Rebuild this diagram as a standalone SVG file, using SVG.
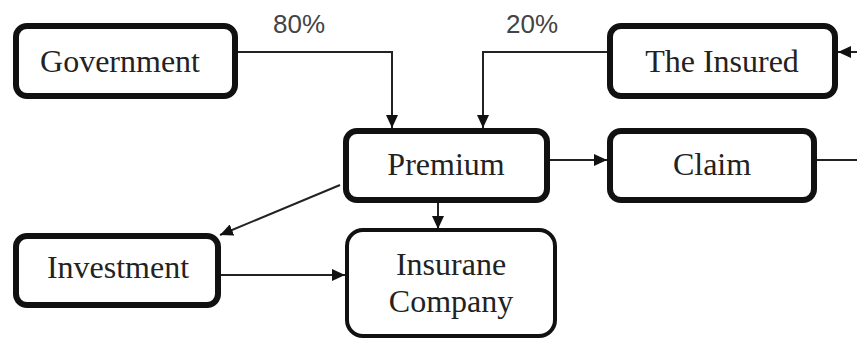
<svg xmlns="http://www.w3.org/2000/svg" width="857" height="338" viewBox="0 0 857 338">
<defs>
<style>
.box{fill:#fff;stroke:#111;stroke-width:6}
.box2{fill:#fff;stroke:#111;stroke-width:4}
.lbl{font-family:"Liberation Serif","Times New Roman",serif;font-size:32px;fill:#222;text-anchor:middle}
.pct{font-family:"Liberation Sans",Arial,sans-serif;font-size:26px;fill:#444}
.edge{fill:none;stroke:#222;stroke-width:2}
</style>
<marker id="arr" markerUnits="userSpaceOnUse" markerWidth="14" markerHeight="12" refX="13" refY="6" orient="auto">
<path d="M0,0 L13,6 L0,12 Z" fill="#111"/>
</marker>
</defs>
<rect width="857" height="338" fill="#fff"/>
<g id="connectors">
<polyline class="edge" points="220,52 392,52 392,128" marker-end="url(#arr)"/>
<polyline class="edge" points="607,52 483,52 483,128" marker-end="url(#arr)"/>
<line class="edge" x1="550" y1="160" x2="607" y2="160" marker-end="url(#arr)"/>
<line class="edge" x1="817" y1="160" x2="857" y2="160"/>
<line class="edge" x1="857" y1="52" x2="838" y2="52" marker-end="url(#arr)"/>
<line class="edge" x1="340" y1="185" x2="220" y2="235" marker-end="url(#arr)"/>
<line class="edge" x1="438" y1="203" x2="438" y2="229" marker-end="url(#arr)"/>
<line class="edge" x1="221" y1="275" x2="345" y2="275" marker-end="url(#arr)"/>
<text class="pct" x="273" y="33">80%</text>
<text class="pct" x="506" y="33">20%</text>
</g>
<g id="government">
<rect class="box" x="16" y="26" width="219" height="70" rx="11"/>
<text class="lbl" x="120" y="72">Government</text>
</g>
<g id="insured">
<rect class="box" x="610" y="26" width="225" height="70" rx="11"/>
<text class="lbl" x="722" y="72">The Insured</text>
</g>
<g id="premium">
<rect class="box" x="346" y="131" width="201" height="69" rx="11"/>
<text class="lbl" x="446" y="175">Premium</text>
</g>
<g id="claim">
<rect class="box" x="610" y="131" width="204" height="69" rx="11"/>
<text class="lbl" x="712" y="175">Claim</text>
</g>
<g id="investment">
<rect class="box" x="16" y="236" width="202" height="69" rx="11"/>
<text class="lbl" x="118" y="278">Investment</text>
</g>
<g id="insurance-company">
<rect class="box2" x="347" y="230" width="208" height="106" rx="16"/>
<text class="lbl" x="451" y="275">Insurane</text>
<text class="lbl" x="451" y="312">Company</text>
</g>
</svg>
